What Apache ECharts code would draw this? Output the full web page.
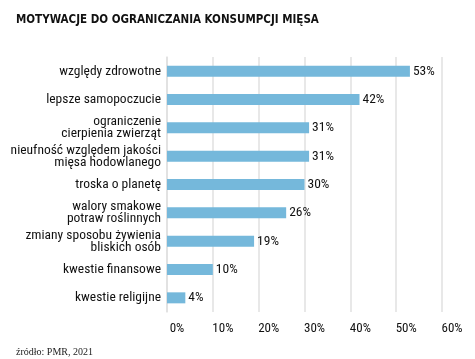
<!DOCTYPE html>
<html><head><meta charset="utf-8">
<script src="https://cdn.jsdelivr.net/npm/echarts@6/dist/echarts.min.js"></script>
<style>html,body{margin:0;padding:0;background:#fff;}#c{width:475px;height:359px;}</style>
</head><body><div id="c"></div>
<script>
const categories = ["względy zdrowotne","lepsze samopoczucie","ograniczenie\ncierpienia zwierząt","nieufność względem jakości\nmięsa hodowlanego","troska o planetę","walory smakowe\npotraw roślinnych","zmiany sposobu żywienia\nbliskich osób","kwestie finansowe","kwestie religijne"];
const values = [53,42,31,31,30,26,19,10,4];
const xTicks = {min:0, max:60, interval:10};
const titleText = "MOTYWACJE DO OGRANICZANIA KONSUMPCJI MIĘSA";
const sourceText = "źródło: PMR, 2021";
const FONT = '"Liberation Sans Narrow","Roboto Condensed","DejaVu Sans Condensed",sans-serif';
const chart = echarts.init(document.getElementById('c'), null, {renderer:'canvas'});
chart.setOption({
  animation:false,
  title:[{text:titleText,left:11,top:9,textStyle:{fontFamily:'"DejaVu Sans Condensed","DejaVu Sans",sans-serif',fontWeight:'bold',fontSize:11.5,color:'#111'}},
         {text:sourceText,left:11,top:342,textStyle:{fontFamily:'"Liberation Serif",serif',fontWeight:'normal',fontSize:10,color:'#222'}}],
  grid:{left:167,right:33,top:57,bottom:47},
  xAxis:{type:'value',min:xTicks.min,max:xTicks.max,interval:xTicks.interval,
    axisLine:{show:false},axisTick:{show:false},
    splitLine:{show:true,lineStyle:{color:'#e0e0e0',width:1.5}},
    axisLabel:{formatter:'{value}%',margin:10,padding:[0,0,0,20],fontFamily:FONT,fontSize:13,color:'#111'}},
  yAxis:{type:'category',data:categories,inverse:true,
    axisLine:{show:true,lineStyle:{color:'#e0e0e0',width:1.5}},axisTick:{show:false},
    axisLabel:{margin:6,fontFamily:FONT,fontSize:13.5,color:'#111',lineHeight:12,align:'right'}},
  series:[{type:'bar',data:values,barWidth:11,itemStyle:{color:'#75b8db'},
    label:{show:true,position:'right',distance:3,formatter:'{c}%',fontFamily:FONT,fontSize:13.5,color:'#111'}}]
});
</script></body></html>
